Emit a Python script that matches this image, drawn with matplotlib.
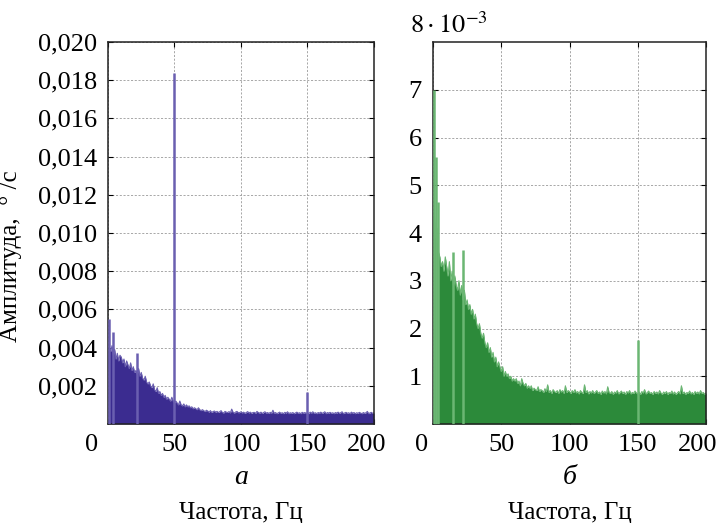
import numpy as np
import matplotlib
matplotlib.use("Agg")
import matplotlib.pyplot as plt
from matplotlib.transforms import ScaledTranslation

plt.rcParams['font.family'] = ['Liberation Serif', 'DejaVu Serif']
plt.rcParams['mathtext.fontset'] = 'stix'

# ---------------- data (amplitudes in 1e-3 deg/s, 1 Hz bins 0..200) -------------
freq = np.arange(0, 201)

left_env = [
    2.9, 4.0, 3.8, 4.1, 3.6, 3.9, 3.4, 3.7, 3.3, 3.6,
    3.5, 3.2, 3.4, 3.0, 3.3, 3.1, 2.9, 3.2, 2.8, 3.0,
    2.7, 2.8, 2.6, 2.9, 2.5, 2.7, 2.4, 2.3, 2.5, 2.2,
    2.1, 2.2, 2.0, 1.9, 2.1, 1.8, 1.7, 1.9, 1.6, 1.7,
    1.5, 1.6, 1.4, 1.5, 1.3, 1.4, 1.3, 1.2, 1.4, 1.2,
    1.1, 1.2, 1.1, 1.0, 1.2, 1.0, 0.95, 1.05, 0.9, 1.0,
    0.9, 0.95, 0.85, 0.9, 0.8, 0.85, 0.8, 0.75, 0.85, 0.75,
    0.7, 0.75, 0.7, 0.65, 0.72, 0.68, 0.62, 0.7, 0.6, 0.65,
    0.68, 0.62, 0.66, 0.6, 0.64, 0.7, 0.6, 0.58, 0.66, 0.62,
    0.6, 0.65, 0.58, 0.78, 0.62, 0.57, 0.63, 0.66, 0.59, 0.6,
    0.64, 0.58, 0.62, 0.56, 0.6, 0.65, 0.58, 0.62, 0.56, 0.6,
    0.61, 0.56, 0.66, 0.6, 0.57, 0.62, 0.55, 0.6, 0.64, 0.57,
    0.6, 0.55, 0.61, 0.57, 0.72, 0.56, 0.6, 0.54, 0.58, 0.62,
    0.56, 0.59, 0.54, 0.61, 0.57, 0.64, 0.54, 0.59, 0.56, 0.6,
    0.54, 0.58, 0.62, 0.56, 0.59, 0.54, 0.61, 0.57, 0.6, 0.56,
    0.59, 0.54, 0.62, 0.57, 0.64, 0.56, 0.59, 0.54, 0.6, 0.57,
    0.62, 0.56, 0.59, 0.64, 0.54, 0.6, 0.57, 0.61, 0.56, 0.59,
    0.54, 0.6, 0.57, 0.62, 0.56, 0.59, 0.64, 0.54, 0.58, 0.61,
    0.56, 0.59, 0.54, 0.62, 0.57, 0.6, 0.54, 0.59, 0.56, 0.61,
    0.57, 0.54, 0.6, 0.56, 0.59, 0.66, 0.54, 0.58, 0.61, 0.56,
    0.58,
]
left_spike_f = [1, 4, 22, 50, 150]
left_spike_a = [5.5, 4.8, 3.7, 18.4, 1.7]

right_env = [
    4.0, 4.4, 3.9, 4.1, 3.6, 3.5, 3.3, 3.4, 3.2, 3.5,
    3.3, 3.1, 3.4, 3.0, 3.2, 2.9, 3.1, 2.9, 2.8, 3.0,
    2.7, 2.9, 2.6, 2.8, 2.5, 2.6, 2.4, 2.5, 2.3, 2.4,
    2.2, 2.3, 2.1, 2.0, 2.1, 1.9, 1.8, 1.9, 1.7, 1.6,
    1.7, 1.5, 1.6, 1.4, 1.5, 1.3, 1.4, 1.2, 1.3, 1.2,
    1.1, 1.2, 1.0, 1.1, 1.0, 1.05, 0.95, 1.0, 0.9, 0.95,
    0.9, 0.95, 0.85, 0.9, 0.8, 0.95, 0.85, 0.8, 0.85, 0.75,
    0.8, 0.75, 0.8, 0.7, 0.75, 0.72, 0.7, 0.78, 0.68, 0.72,
    0.7, 0.66, 0.74, 0.68, 0.82, 0.66, 0.7, 0.64, 0.72, 0.68,
    0.66, 0.7, 0.64, 0.72, 0.67, 0.7, 0.64, 0.8, 0.66, 0.7,
    0.68, 0.64, 0.7, 0.66, 0.72, 0.65, 0.68, 0.63, 0.7, 0.66,
    0.64, 0.82, 0.66, 0.7, 0.63, 0.68, 0.65, 0.7, 0.64, 0.67,
    0.7, 0.64, 0.67, 0.62, 0.69, 0.65, 0.68, 0.63, 0.78, 0.66,
    0.64, 0.68, 0.62, 0.67, 0.65, 0.7, 0.63, 0.66, 0.69, 0.64,
    0.67, 0.62, 0.68, 0.65, 0.7, 0.63, 0.66, 0.64, 0.69, 0.65,
    0.63, 0.67, 0.62, 0.68, 0.65, 0.72, 0.63, 0.66, 0.69, 0.64,
    0.66, 0.62, 0.68, 0.64, 0.67, 0.63, 0.7, 0.65, 0.62, 0.67,
    0.64, 0.68, 0.62, 0.66, 0.64, 0.69, 0.63, 0.67, 0.62, 0.65,
    0.68, 0.63, 0.8, 0.64, 0.67, 0.62, 0.66, 0.64, 0.69, 0.63,
    0.66, 0.62, 0.68, 0.64, 0.67, 0.63, 0.7, 0.64, 0.66, 0.62,
    0.65,
]
right_spike_f = [0.5, 2, 4, 15, 22, 150]
right_spike_a = [7.0, 5.6, 4.65, 3.6, 3.65, 1.75]

x_ticks = [0, 50, 100, 150, 200]
left_yticks = [0.002, 0.004, 0.006, 0.008, 0.010, 0.012, 0.014, 0.016, 0.018, 0.020]
right_yticks = [1, 2, 3, 4, 5, 6, 7]

BLUE = '#3b2c90'
BLUE_L = '#6a5fb0'
GREEN = '#2c8a3a'
GREEN_L = '#6bb673'

W, H = 722, 523
fig = plt.figure(figsize=(W / 100, H / 100), dpi=100)
axL = fig.add_axes([108 / W, (H - 424) / H, (374 - 108) / W, 382 / H])
axR = fig.add_axes([433 / W, (H - 424) / H, (706 - 433) / W, 382 / H])

FS_TICK = 19

def style(ax):
    ax.set_xlim(0, 200)
    ax.set_xticks(x_ticks)
    ax.grid(True, color='#999999', linestyle=(0, (2.5, 2)), linewidth=0.6)
    ax.set_axisbelow(True)
    ax.tick_params(direction='in', top=True, right=True, length=3.5, width=0.8,
                   labelsize=FS_TICK)
    ax.tick_params(axis='x', pad=7)
    ax.tick_params(axis='y', pad=8)
    for s in ax.spines.values():
        s.set_linewidth(1.1)
        s.set_color('#222222')

# left panel
le = np.array(left_env) * 1e-3
axL.fill_between(freq, 0, le, color=BLUE, lw=0, zorder=2)
axL.plot(freq, le, color=BLUE_L, lw=0.8, zorder=2)
axL.vlines(left_spike_f, 0, np.array(left_spike_a) * 1e-3, color=BLUE_L, lw=1.8, zorder=3)
axL.set_ylim(0, 0.020)
axL.set_yticks(left_yticks)
axL.set_yticklabels([f'{v:.3f}'.replace('.', ',') for v in left_yticks])
style(axL)
axL.set_ylabel('Амплитуда,  ° /с', fontsize=18)
axL.yaxis.set_label_coords(-0.323, 0.44)

# right panel
axR.fill_between(freq, 0, right_env, color=GREEN, lw=0, zorder=2)
axR.plot(freq, right_env, color=GREEN_L, lw=0.8, zorder=2)
axR.vlines(right_spike_f, 0, right_spike_a, color=GREEN_L, lw=1.8, zorder=3)
axR.set_ylim(0, 8)
axR.set_yticks(right_yticks)
axR.set_yticklabels([str(v) for v in right_yticks])
style(axR)
axR.text(-0.084, 1.024, r'$8\cdot10^{-3}$', transform=axR.transAxes, fontsize=19,
         ha='left', va='baseline')

# nudge first/last x tick labels as in the reference
for ax, (d0, d1) in ((axL, (-16, -7)), (axR, (-11, -8))):
    labs = ax.get_xticklabels()
    labs[0].set_transform(labs[0].get_transform() + ScaledTranslation(d0 / 100, 0, fig.dpi_scale_trans))
    labs[-1].set_transform(labs[-1].get_transform() + ScaledTranslation(d1 / 100, 0, fig.dpi_scale_trans))

# panel letters and axis titles
for ax, letter in ((axL, 'а'), (axR, 'б')):
    ax.text(0.5, -0.141, letter, transform=ax.transAxes, fontsize=20, style='italic',
            ha='center', va='center')
    ax.text(0.5, -0.232, 'Частота, Гц', transform=ax.transAxes, fontsize=18,
            ha='center', va='center')

fig.savefig('out.png', dpi=100)
